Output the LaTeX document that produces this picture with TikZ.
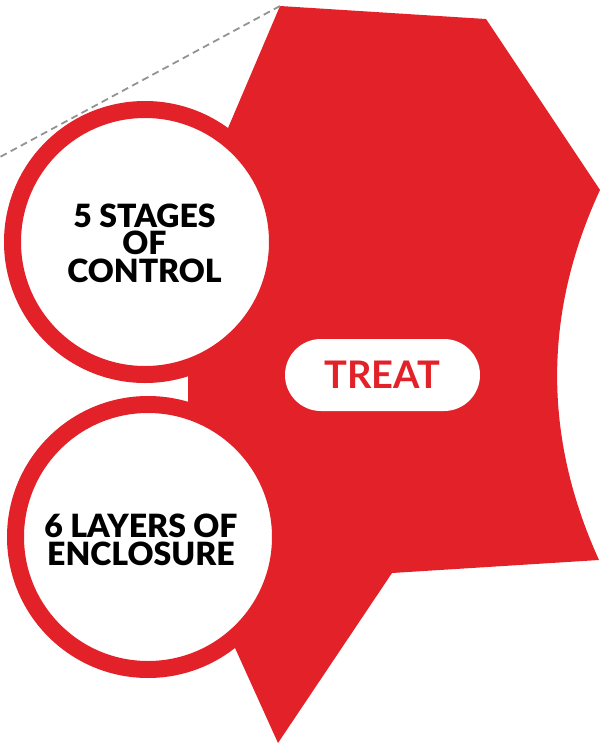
\documentclass[tikz,border=0pt]{standalone}
\usepackage{fontspec}
\setmainfont{Lato}
\newfontfamily\heavyfont{Lato Black}
\definecolor{treatred}{RGB}{227,33,41}

\begin{document}
\begin{tikzpicture}[x=1pt, y=-1pt,
	ring/.style={draw=treatred, fill=white, circle, line width=17pt, minimum size=265pt, inner sep=0pt},
	ringtext/.style={align=center, inner sep=0pt, font=\heavyfont\fontsize{32}{27.5}\selectfont},
	pill/.style={fill=white, rounded corners=36pt, minimum width=195pt, minimum height=72pt, text=treatred, font=\bfseries\fontsize{38}{38}\selectfont}]
	\useasboundingbox (0,0) rectangle (600,745);
	% red shape behind the two circles
	\coordinate (A) at (280,6);
	\coordinate (B) at (486,19);
	\coordinate (C) at (600,190);
	\coordinate (D) at (599,560);
	\coordinate (E) at (392,573);
	\coordinate (F) at (278,743);
	\fill[treatred] (A) -- (B) -- (C) .. controls (543,313) and (543,437) .. (D)
		-- (E) -- (F) -- (188,544) -- (188,222) -- cycle;
	\coordinate (edge) at (0,157);
	\draw[gray!85, line width=1.8pt, dash pattern=on 7pt off 4.5pt] (A) -- (edge);
	\node[ring] (upper) at (145,242) {};
	\node[ring] (lower) at (148,537) {};
	\node[ringtext] (stages) at (144.5,243) {5 STAGES\\OF\\CONTROL};
	\node[ringtext] (layers) at (141,540) {6 LAYERS OF\\ENCLOSURE};
	\node[pill] (treat) at (382.5,375) {TREAT};
\end{tikzpicture}
\end{document}
